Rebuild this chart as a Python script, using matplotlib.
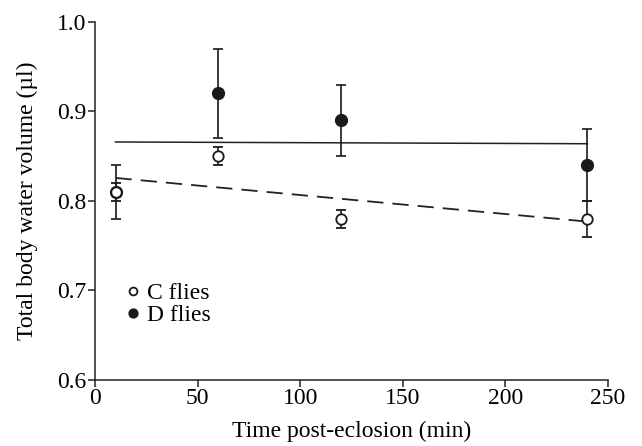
import numpy as np
import matplotlib
matplotlib.use('Agg')
import matplotlib.pyplot as plt

plt.rcParams['font.family'] = ['Liberation Serif', 'DejaVu Serif']

# minutes post-eclosion
time = [10, 60, 120, 240]
c_mean = [0.81, 0.85, 0.78, 0.78]
c_err = [0.01, 0.01, 0.01, 0.02]
d_mean = [0.81, 0.92, 0.89, 0.84]
d_err = [0.03, 0.05, 0.04, 0.04]

fig = plt.figure(figsize=(6.42, 4.46), dpi=100)
ax = fig.add_axes([0.148, 0.148, 0.799, 0.803])

# regression lines
xs = np.array([time[0], time[-1]])
c_fit = np.polyfit(time, c_mean, 1)
d_fit = np.polyfit(time, d_mean, 1)
ax.plot(xs, np.polyval(d_fit, xs), color='#222222', lw=1.1)
ax.plot(xs, np.polyval(c_fit, xs), color='#222222', lw=1.3, dashes=(9, 5))

ax.errorbar(time, d_mean, yerr=d_err, fmt='o', color='#1a1a1a', mfc='#1a1a1a',
            ms=8.5, capsize=3.5, elinewidth=1.2, capthick=1.2, label='D flies', zorder=3)
ax.errorbar(time, c_mean, yerr=c_err, fmt='o', color='#1a1a1a', mfc='white',
            ms=7.5, mew=1.3, capsize=3.5, elinewidth=1.2, capthick=1.2, label='C flies', zorder=4)

ax.set_xlim(0, 250)
ax.set_ylim(0.6, 1.0)
ax.set_xticks([0, 50, 100, 150, 200, 250])
ax.set_yticks([0.6, 0.7, 0.8, 0.9, 1.0])
ax.yaxis.set_major_formatter(matplotlib.ticker.FormatStrFormatter('%.1f'))
ax.tick_params(direction='out', length=5, width=1.1, labelsize=17, pad=1, color='#222222')
for s in ['top', 'right']:
    ax.spines[s].set_visible(False)
for s in ['left', 'bottom']:
    ax.spines[s].set_linewidth(1.1)
    ax.spines[s].set_color('#222222')

ax.set_xlabel('Time post-eclosion (min)', fontsize=17, labelpad=8)
ax.set_ylabel('Total body water volume (\u00b5l)', fontsize=17, labelpad=14)

h, l = ax.get_legend_handles_labels()
leg = ax.legend([hh[0] for hh in h[::-1]], l[::-1], loc='center left',
                bbox_to_anchor=(0.042, 0.211), frameon=False, fontsize=17,
                handlelength=0.6, handletextpad=0.3, labelspacing=0.0,
                borderaxespad=0.0, markerscale=0.75)

fig.savefig('out.png', dpi=100)
